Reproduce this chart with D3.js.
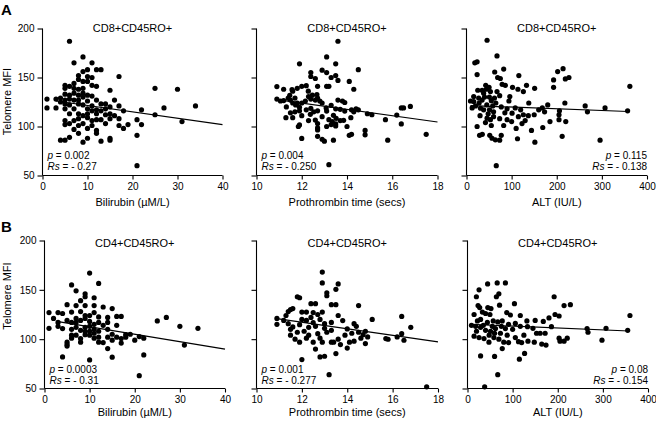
<!DOCTYPE html>
<html><head><meta charset="utf-8">
<script src="https://cdn.jsdelivr.net/npm/d3@7"></script>
<style>
body{margin:0;background:#fff}
svg{display:block}
text{font-family:"Liberation Sans",Arial,Helvetica,sans-serif;fill:#000}
</style>
</head><body>
<svg id="chart" width="656" height="423"></svg>
<script>
// ---------- data ----------
const yTicks = [50, 100, 150, 200];
const bilirubinTicks = [0, 10, 20, 30, 40];
const ptTicks = [10, 12, 14, 16, 18];
const altTicks = [0, 100, 200, 300, 400];
const xLabels = ["Bilirubin (\u00B5M/L)", "Prothrombin time (secs)", "ALT (IU/L)"];
const rowTitles = ["CD8+CD45RO+", "CD4+CD45RO+"];
const rowLetters = ["A", "B"];
const pValues = [["0.002", "0.004", "0.115"], ["0.0003", "0.001", "0.08"]];
const rsValues = [["- 0.27", "- 0.250", "- 0.138"], ["- 0.31", "- 0.277", "- 0.154"]];

// regression line end points [x0, y0, x1, y1]
const fitA1 = [3, 126, 40, 102];
const fitA2 = [10.9, 127.5, 18, 104.6];
const fitA3 = [8.8, 121.4, 358, 115.3];
const fitB1 = [2.7, 118, 40, 90];
const fitB2 = [10.9, 120.8, 18, 97.2];
const fitB3 = [8.8, 115, 358, 108.3];

// CD8+CD45RO+ telomere MFI vs bilirubin
const ptsA1 = [[6,187],[9,171],[7,165],[11,165],[10,158],[12,158],[13,158],[9,156],[17,151],[8,152],[11,150],[10,151],[8,148],[9,146],[10,146],[7,144],[5,142],[6,141],[11,142],[12,141],[5,139],[7,139],[8,138],[9,139],[15,137],[25,139],[30,138],[5,133],[6,132],[7,134],[8,132],[9,134],[10,132],[11,131],[9,130],[1,128],[3,128],[4,129],[5,127],[6,128],[7,127],[8,127],[10,126],[16,127],[12,127],[4,125],[5,123],[6,122],[8,123],[9,122],[11,121],[13,123],[14,123],[15,120],[17,121],[34,121],[1,119],[3,119],[5,118],[7,118],[10,118],[11,116],[12,117],[13,116],[14,118],[18,116],[22,117],[27,119],[6,113],[8,113],[9,111],[10,113],[12,113],[14,112],[15,113],[16,111],[25,112],[5,106],[7,106],[8,108],[10,109],[11,106],[13,107],[15,108],[17,108],[21,107],[31,105],[12,107],[5,102],[6,103],[9,103],[11,101],[14,103],[17,101],[19,102],[22,102],[8,101],[10,98],[18,98],[12,96],[7,97],[8,93],[12,93],[21,91],[6,89],[4,86],[5,86],[10,88],[9,84],[13,85],[15,88],[15,86],[21,60]];
// CD8+CD45RO+ vs prothrombin time
const ptsA2 = [[13.6,187],[13.1,171],[11.9,164],[13.5,164],[14.5,158],[12.9,157.5],[13.1,155],[12.4,155],[12.4,151],[12.6,149],[13.3,150],[13.5,152],[13.6,147],[14.1,146],[13.1,141],[13.2,141],[12.7,141],[10.9,140.7],[11.2,138],[11.6,136],[12,141],[11.8,139],[12.2,141.7],[14.3,138],[11.4,129],[10.9,128],[11.5,127],[11.7,129],[12.3,130.5],[12.4,128],[12.6,127],[12.7,129],[12.8,126],[12.9,124],[12,124],[11.6,124],[13.6,127],[13.8,126],[13.9,124.5],[13.3,121.5],[13.5,118],[13.7,117.5],[14.4,118],[14.5,117],[14.3,115],[14.9,113],[15.1,112],[15.7,107],[16.2,111.7],[16.4,119],[16.5,119],[16.8,120.5],[16.4,102.6],[17.5,92],[15.8,86],[14.8,91.5],[14.8,96],[14.2,92],[14.1,91],[14,100],[13.5,100.6],[13.5,102.6],[13.7,106],[13.2,107],[12.9,110],[12.7,116],[12.4,118.5],[12.2,117],[11.9,119.6],[11.7,115],[11.5,114],[11.3,109],[11.6,109],[12,111],[12.3,106],[12.6,106.6],[12.7,103],[11.9,101.6],[11.85,100],[12.7,98.5],[12.7,96.5],[13.1,100],[13.3,102],[12,87.8],[12.7,90],[12.9,87],[13,85],[13.4,86],[13.2,61],[11.57,137.6],[11.47,131.9],[12.29,136],[12.47,132],[12.67,132.6],[12.16,126],[11.8,124],[11.2,126.5],[11.06,126],[11.32,120],[11.73,122],[11.9,116],[12.38,112.4],[12.53,115],[13.08,119],[13.1,115.7],[13.4,111.4],[13.52,108.3],[13.35,105],[13.85,106.3],[14.17,109],[14.2,117],[13.9,115.7]];
// CD8+CD45RO+ vs ALT
const ptsA3 = [[45.6,188],[67.6,172],[18.4,165],[23.5,166],[62.5,155.6],[82.4,158.6],[116,152],[23.5,153],[69,150],[75,149],[202,156],[219,148.5],[193,147.5],[133,142],[151,139],[227,150],[193,140],[214,159],[362,141],[42.6,142],[50,140],[25,137],[34.6,137],[44,138],[53,135.6],[67.6,135.6],[79,143],[86,142],[102,140],[114,138],[126,135.6],[8.8,126],[16,125.4],[16,130.5],[27,129],[34.6,127],[40,130],[50.7,130],[55,126.4],[73.5,131.5],[94,126],[96,130.5],[12.5,119],[31,118.6],[38,117],[51,117],[60,115],[77,120],[90,118],[101,113.6],[138,124],[108,119],[115,110],[126,112],[137,111],[150,112],[160,117],[168,119],[180,122],[173,115],[206,116],[218,124],[263,121],[268,115],[307,119],[357,116],[23.5,100],[45.6,108.5],[53,107],[60,110],[73.5,108],[82.4,101],[90,107],[110,98],[123,103],[144,96],[169,99],[185,105],[205,107],[205,112],[220,105],[29,91],[35,92],[51.5,91],[56.6,88],[64,86.4],[77,91],[73.5,86],[113,87.5],[151.5,84],[212,90],[296,86],[66,60],[20,121],[28,124],[45,122],[48,113],[42,104],[58,121],[65,124],[85,114],[120,117],[30,111],[38,134],[62,129],[100,105],[130,106],[55,101]];
// CD4+CD45RO+ vs bilirubin
const ptsB1 = [[10,167],[6,155],[12,156.5],[7,149],[9,146],[9,143],[11,142],[8,139],[5,135],[7,134],[9,134],[11,134],[13,132.6],[15,131],[3,127],[4,126],[6,127.5],[8,128],[9,124],[11,127],[12,122.5],[14,122],[16,123],[17,123],[25,118.5],[27,122],[30,113],[34,111],[1,127],[1,111],[2,121],[3,117],[5,119],[7,117],[8,119],[9,121],[10,118],[12,117],[14,117],[16,114],[3,113],[4,110.7],[6,110],[7,112],[8,109],[9,108],[11,110],[12,108],[14,110],[6,104],[7,104],[8,100.6],[9,104.6],[10,104],[11,101],[12,102],[14,102],[16,102],[17,100.6],[18,102],[18,104.6],[21,102.6],[22,101],[20,99],[5,97],[8,97],[12,97],[13,96.5],[15,99],[14,90.5],[17,96],[31,94],[5,94.5],[5,93],[4,82],[10,79],[15,81.7],[22,84],[21,63],[10,113],[11,115],[9,112],[10,108],[6,117],[7,121],[10,124],[13,114],[15,105],[19,105],[11,106],[6,101]];
// CD4+CD45RO+ vs prothrombin time
const ptsB2 = [[12.9,168],[12.9,157],[13.6,156],[13.1,147],[13.1,144],[13.5,150.5],[11.8,143],[11.9,142],[12.4,136],[12.6,136],[13.3,135],[13.5,135],[14.5,134],[11.5,130],[11.6,131],[11.4,128],[12,127.5],[12.2,127.5],[12.5,127],[12.7,125],[12.9,127.5],[13.6,124],[10.9,121],[11.2,119],[15.1,120],[16.4,123],[16.8,112],[10.9,115],[11.4,115.7],[11.6,112.4],[11.9,114.7],[12.2,119],[12.3,112],[12.5,116.7],[12.8,120],[13,115.7],[13.3,117],[13.8,118.8],[14,110.4],[14.3,115.7],[14.5,107],[14.7,104.6],[14.8,108],[14.9,102.3],[16.2,102.3],[16.4,105.6],[16.5,98.9],[15.7,100.6],[15.8,99.9],[11.5,104],[11.7,100],[11.9,97],[12.2,101],[12.5,97],[12.7,105.6],[12.9,97],[13.3,97],[13.4,97],[13.6,100],[13.7,94.5],[14.1,97],[14,91],[14.3,98],[14.8,95.5],[12.6,90],[12.8,82],[13,82.7],[13.5,85.4],[12,79.3],[13.2,64],[17.5,51.7],[13.3,109],[13.1,107],[11.5,110],[11.8,107],[12.1,108],[12.4,122],[12.6,113],[13,111],[12.3,104],[14.4,113],[13.9,104],[11.3,124],[12,120],[12.8,101],[14.6,101],[14.2,106]];
// CD4+CD45RO+ vs ALT
const ptsB3 = [[65.8,157],[84,157],[44.6,156],[69.5,146],[64,143],[25.6,150],[19.7,143],[192,143],[228,135],[214,134],[104,136],[71,134.5],[23.4,134],[27,132],[45,132],[52,131],[14.6,125],[33,127.5],[40,126],[49.7,125],[87,127],[95,124.5],[117,124],[194,125],[203,123.5],[360,124],[180.6,121.5],[168,118],[150,119],[131.6,118.5],[8.8,114],[22,118.5],[29,120],[44,117],[57,118.5],[67,117.5],[77,118.5],[91,115],[106,116],[117,113],[133,112.7],[145,111],[161,106],[172,106],[153,106],[186,112.7],[265,110.7],[267,107],[307,111],[355,109],[18,113],[29,112],[40,109],[51,108],[62,110.7],[73,106],[84,110.7],[14.6,103],[25.6,101.6],[36.6,100.6],[47.5,97],[58.5,101.6],[69.5,100],[80.4,97],[77,90.5],[91,96.5],[106,101.6],[113,97.5],[120,96.5],[134,98],[148,97],[164.5,95],[174,94],[203,101],[205,98],[214,98],[221,101],[298,99],[29,83],[60,82.5],[115,79.7],[126.5,85.5],[67,64],[38,51.7],[35,114],[55,113],[75,113],[48,104],[100,110],[125,104],[20,108],[60,106],[88,104]];

// ---------- layout ----------
const rows = [
  {top: 28.5, bottom: 175.5, lefts: [42.5, 256.5, 466.5], rights: [222.5, 437.5, 647], titleY: 31.5, xLabelY: 205.5, yLabelY: 101.5, letterY: 15, annot: [-17, -5.5]},
  {top: 240.5, bottom: 388.5, lefts: [44.5, 256.5, 467.5], rights: [225, 438, 648], titleY: 246.5, xLabelY: 416, yLabelY: 296, letterY: 232, annot: [-16, -4.5]}
];
const panelPts = [[ptsA1, ptsA2, ptsA3], [ptsB1, ptsB2, ptsB3]];
const panelFits = [[fitA1, fitA2, fitA3], [fitB1, fitB2, fitB3]];
const xTickSets = [bilirubinTicks, ptTicks, altTicks];

const svg = d3.select("#chart");

rows.forEach((row, ri) => {
  svg.append("text").attr("x", 1).attr("y", row.letterY)
    .attr("font-size", 15).attr("font-weight", "bold").text(rowLetters[ri]);
  svg.append("text")
    .attr("transform", `translate(10.5,${row.yLabelY}) rotate(-90)`)
    .attr("text-anchor", "middle").attr("font-size", 11).text("Telomere MFI");

  for (let ci = 0; ci < 3; ci++) {
    const ticks = xTickSets[ci];
    const x = d3.scaleLinear().domain([ticks[0], ticks[ticks.length - 1]])
      .range([row.lefts[ci], row.rights[ci]]);
    const y = d3.scaleLinear().domain([50, 200]).range([row.bottom, row.top]);
    const g = svg.append("g");

    const yAxis = d3.axisLeft(y).tickValues(yTicks).tickSize(5).tickPadding(3)
      .tickFormat(ci === 0 ? d3.format("d") : () => "");
    const ga = g.append("g").attr("transform", `translate(${row.lefts[ci]},0)`).call(yAxis);
    const xAxis = d3.axisBottom(x).tickValues(ticks).tickSize(4).tickPadding(3).tickFormat(d3.format("d"));
    const gb = g.append("g").attr("transform", `translate(0,${row.bottom})`).call(xAxis);
    [ga, gb].forEach(a => {
      a.select(".domain").attr("stroke", "#000").attr("stroke-width", 1.1);
      a.selectAll(".tick line").attr("stroke", "#000").attr("stroke-width", 1.1);
      a.selectAll("text").attr("font-size", 10)
        .attr("font-family", '"Liberation Sans",Arial,sans-serif').attr("fill", "#000");
    });
    ga.select(".domain").attr("d", `M0,${row.bottom}V${row.top}`);
    gb.select(".domain").attr("d", `M${row.lefts[ci]},0H${row.rights[ci]}`);

    // points
    g.append("g").selectAll("circle").data(panelPts[ri][ci]).join("circle")
      .attr("cx", d => x(d[0])).attr("cy", d => y(d[1])).attr("r", 2.6).attr("fill", "#000");

    // regression line
    const f = panelFits[ri][ci];
    g.append("line").attr("x1", x(f[0])).attr("y1", y(f[1])).attr("x2", x(f[2])).attr("y2", y(f[3]))
      .attr("stroke", "#000").attr("stroke-width", 1.2);

    // title
    g.append("text").attr("x", (row.lefts[ci] + row.rights[ci]) / 2).attr("y", row.titleY)
      .attr("text-anchor", "middle").attr("font-size", 11).text(rowTitles[ri]);
    // x label
    g.append("text").attr("x", (row.lefts[ci] + row.rights[ci]) / 2).attr("y", row.xLabelY)
      .attr("text-anchor", "middle").attr("font-size", 11).text(xLabels[ci]);

    // stats annotation
    const right = ci === 2;
    const ax = right ? row.rights[ci] : row.lefts[ci] + 5;
    const anchor = right ? "end" : "start";
    const t1 = g.append("text").attr("x", ax).attr("y", row.bottom + row.annot[0])
      .attr("text-anchor", anchor).attr("font-size", 10);
    t1.append("tspan").attr("font-style", "italic").text("p");
    t1.append("tspan").text(" = " + pValues[ri][ci]);
    const t2 = g.append("text").attr("x", ax).attr("y", row.bottom + row.annot[1])
      .attr("text-anchor", anchor).attr("font-size", 10);
    t2.append("tspan").attr("font-style", "italic").text("Rs");
    t2.append("tspan").text(" = " + rsValues[ri][ci]);
  }
});
</script>
</body></html>
